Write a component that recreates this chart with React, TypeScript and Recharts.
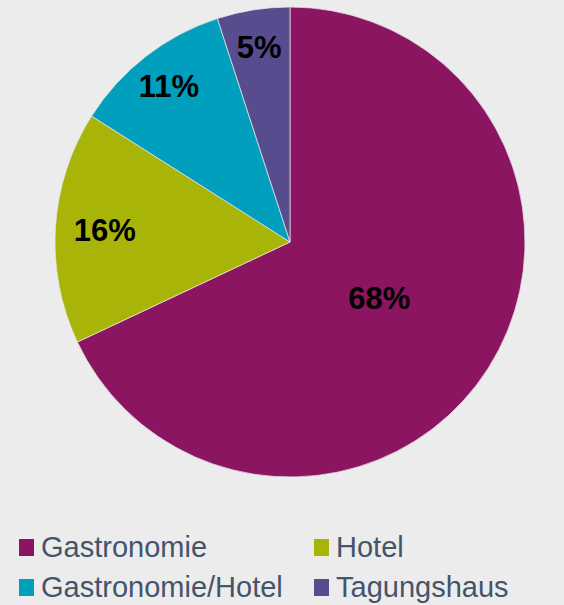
import { PieChart, Pie, Cell, Legend } from 'recharts';

const categories = ['Gastronomie', 'Hotel', 'Gastronomie/Hotel', 'Tagungshaus'];
const shares = [68, 16, 11, 5];
const colors = ['#8b1560', '#a8b508', '#009fbd', '#574c8e'];

const data = categories.map((name, i) => ({ name, value: shares[i] }));

const RADIAN = Math.PI / 180;

const renderLabel = (props: any) => {
    const { cx, cy, midAngle, outerRadius, percent, value } = props;
    // big slice gets its label closer to the middle, small ones near the rim
    const r = outerRadius * (percent > 0.5 ? 0.45 : percent > 0.12 ? 0.79 : 0.84);
    const x = cx + r * Math.cos(-midAngle * RADIAN);
    const y = cy + r * Math.sin(-midAngle * RADIAN);
    return (
        <text
            x={x}
            y={y}
            fill="#000"
            textAnchor="middle"
            dominantBaseline="central"
            fontFamily="'Liberation Sans', Arial, sans-serif"
            fontWeight="bold"
            fontSize={31}
        >
            {`${value}%`}
        </text>
    );
};

const renderLegend = () => (
    <div
        style={{
            display: 'grid',
            gridTemplateColumns: '295px 250px',
            paddingLeft: 19,
            fontFamily: "'Liberation Sans', Arial, sans-serif",
            fontSize: 29,
            color: '#44546a',
        }}
    >
        {categories.map((name, i) => (
            <div key={name} style={{ display: 'flex', alignItems: 'center', height: 40, whiteSpace: 'nowrap' }}>
                <span style={{ width: 15, height: 17, background: colors[i], marginRight: 7, display: 'inline-block', flexShrink: 0 }} />
                <span>{name}</span>
            </div>
        ))}
    </div>
);

export default function App() {
    return (
        <div style={{ position: 'absolute', top: 0, left: 0, width: 564, height: 605, background: '#ececec', overflow: 'hidden' }}>
            <PieChart width={564} height={605} margin={{ top: 0, right: 0, bottom: 0, left: 0 }}>
                <Pie
                    data={data}
                    dataKey="value"
                    nameKey="name"
                    cx={290}
                    cy={242}
                    outerRadius={235}
                    startAngle={90}
                    endAngle={-270}
                    stroke="#e6e6e6"
                    strokeWidth={0.75}
                    label={renderLabel}
                    labelLine={false}
                    isAnimationActive={false}
                >
                    {data.map((entry, index) => (
                        <Cell key={`cell-${index}`} fill={colors[index]} />
                    ))}
                </Pie>
                <Legend
                    content={renderLegend}
                    wrapperStyle={{ position: 'absolute', top: 527, left: 0, width: 564 }}
                />
            </PieChart>
        </div>
    );
}
